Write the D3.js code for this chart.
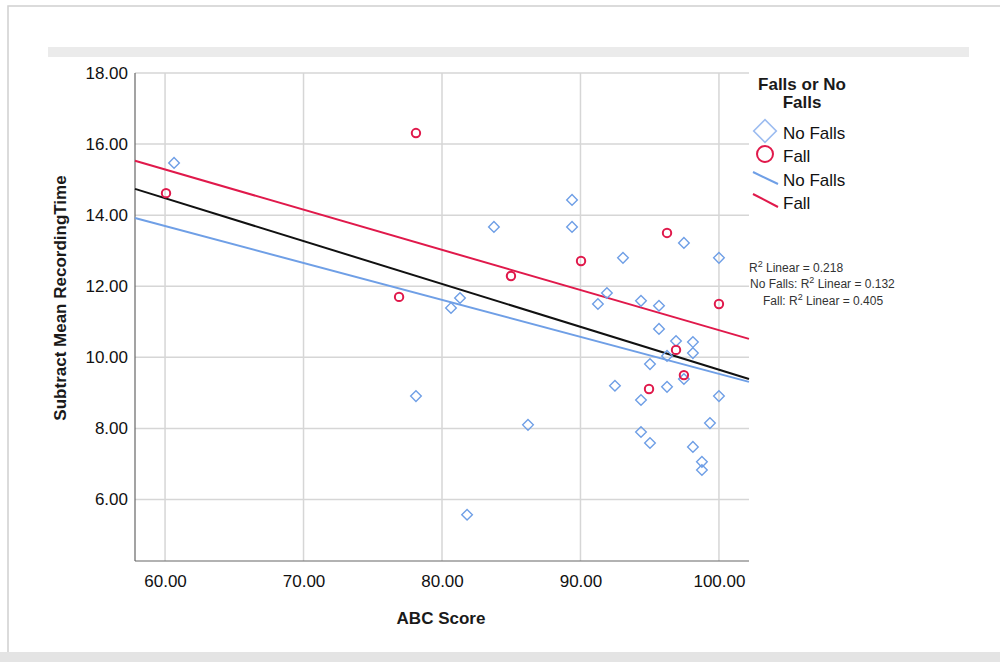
<!DOCTYPE html>
<html>
<head>
<meta charset="utf-8">
<script src="https://cdn.jsdelivr.net/npm/d3@7"></script>
<style>
	body{margin:0;background:#fff;}
	svg{display:block;font-family:"Liberation Sans",Arial,sans-serif;}
</style>
</head>
<body>
<svg id="chart" width="1000" height="662"></svg>
<script>
/*
	Scatter ABC Score vs Subtract Mean RecordingTime, with fit lines
*/

// No Falls (diamonds)
var noFallX = [60.65,83.75,89.39,89.39,93.07,97.47,100.0,80.65,81.3,91.91,91.26,94.37,95.67,95.67,96.9,98.12,98.12,96.25,95.02,97.47,92.49,96.25,94.37,100.0,78.12,86.21,94.37,95.02,99.35,98.12,98.77,98.77,81.81];
var noFallY = [15.47,13.67,14.43,13.67,12.80,13.22,12.80,11.39,11.67,11.81,11.50,11.59,11.45,10.80,10.46,10.43,10.12,10.04,9.81,9.39,9.20,9.17,8.80,8.91,8.91,8.10,7.90,7.59,8.15,7.48,7.06,6.83,5.57];

// Fall (circles)
var fallX = [78.12,60.07,76.9,84.98,90.04,96.25,100.0,96.9,94.95,97.47];
var fallY = [16.31,14.62,11.70,12.29,12.71,13.50,11.50,10.21,9.11,9.50];

// fit lines, ends at the axis limits
var fitX = [57.83,102.17];
var fitTotal = [14.74,9.39];
var fitNoFall = [13.92,9.31];
var fitFall = [15.53,10.52];

var xTicks = [60,70,80,90,100];
var yTicks = [6,8,10,12,14,16,18];

var r2Labels = [
	{pre:"R", post:" Linear = 0.218", x:749, y:272},
	{pre:"No Falls: R", post:" Linear = 0.132", x:750, y:288},
	{pre:"Fall: R", post:" Linear = 0.405", x:763, y:305}
];

var blue = "#6f9fe6";
var red = "#e0194b";

function init(){
	var svg = d3.select('#chart');

	// frame
	svg.append("rect").attr("x",8).attr("y",6).attr("width",1000).attr("height",648)
		.attr("fill","none").attr("stroke","#d0d0d0").attr("stroke-width",1.5);
	svg.append("rect").attr("x",0).attr("y",652).attr("width",1000).attr("height",10)
		.attr("fill","#e4e4e4");
	svg.append("rect").attr("x",48).attr("y",47).attr("width",921).attr("height",10)
		.attr("fill","#ebebeb");

	var x = d3.scaleLinear().domain([57.83,102.17]).range([135,749]);
	var y = d3.scaleLinear().domain([4.27,18]).range([561,73]);

	// grid
	svg.append("g").selectAll("line").data(xTicks).enter().append("line")
		.attr("x1",d=>x(d)).attr("x2",d=>x(d)).attr("y1",y(18)).attr("y2",561)
		.attr("stroke","#d6d6d6").attr("stroke-width",1.5);
	svg.append("g").selectAll("line").data(yTicks).enter().append("line")
		.attr("x1",135).attr("x2",749).attr("y1",d=>y(d)).attr("y2",d=>y(d))
		.attr("stroke","#d6d6d6").attr("stroke-width",1.5);

	// axes
	var ax = svg.append("g").attr("transform","translate(0,561)")
		.call(d3.axisBottom(x).tickValues(xTicks).tickSize(0).tickPadding(14).tickFormat(d3.format(".2f")));
	var ay = svg.append("g").attr("transform","translate(135,0)")
		.call(d3.axisLeft(y).tickValues(yTicks).tickSize(0).tickPadding(7).tickFormat(d3.format(".2f")));
	[ax,ay].forEach(function(a){
		a.select(".domain").remove();
		a.selectAll("text").attr("font-size","17px").attr("fill","#111")
			.attr("font-family","'Liberation Sans',Arial,sans-serif");
	});
	svg.append("line").attr("x1",135).attr("x2",135).attr("y1",y(18)).attr("y2",561)
		.attr("stroke","#666").attr("stroke-width",1.2);
	svg.append("line").attr("x1",135).attr("x2",749).attr("y1",561).attr("y2",561)
		.attr("stroke","#666").attr("stroke-width",1.2);

	// titles
	svg.append("text").attr("x",441).attr("y",624).attr("text-anchor","middle")
		.attr("font-size","17px").attr("font-weight","bold").attr("fill","#1a1a1a").text("ABC Score");
	svg.append("text").attr("transform","translate(66,298) rotate(-90)").attr("text-anchor","middle")
		.attr("font-size","17px").attr("font-weight","bold").attr("fill","#1a1a1a").text("Subtract Mean RecordingTime");

	// fit lines
	var line = d3.line().x(d=>x(d[0])).y(d=>y(d[1]));
	[[fitFall,red],[fitTotal,"#111"],[fitNoFall,blue]].forEach(function(f){
		svg.append("path").datum(d3.zip(fitX,f[0])).attr("d",line)
			.attr("fill","none").attr("stroke",f[1]).attr("stroke-width",2);
	});

	// points
	svg.append("g").selectAll("path").data(d3.zip(noFallX,noFallY)).enter().append("path")
		.attr("d",d3.symbol().type(d3.symbolDiamond2).size(72))
		.attr("transform",d=>"translate("+x(d[0])+","+y(d[1])+")")
		.attr("fill","none").attr("stroke",blue).attr("stroke-width",1.4);
	svg.append("g").selectAll("circle").data(d3.zip(fallX,fallY)).enter().append("circle")
		.attr("cx",d=>x(d[0])).attr("cy",d=>y(d[1])).attr("r",4.2)
		.attr("fill","none").attr("stroke",red).attr("stroke-width",2);

	// R2 labels
	r2Labels.forEach(function(l){
		var t = svg.append("text").attr("x",l.x).attr("y",l.y).attr("font-size","12px").attr("fill","#333");
		t.append("tspan").text(l.pre);
		t.append("tspan").attr("dy",-5).attr("font-size","9px").text("2");
		t.append("tspan").attr("dy",5).text(l.post);
	});

	// legend
	var lg = svg.append("g");
	lg.append("text").attr("x",802).attr("y",90).attr("text-anchor","middle")
		.attr("font-size","17px").attr("font-weight","bold").attr("fill","#1a1a1a").text("Falls or No");
	lg.append("text").attr("x",802).attr("y",108).attr("text-anchor","middle")
		.attr("font-size","17px").attr("font-weight","bold").attr("fill","#1a1a1a").text("Falls");
	lg.append("rect").attr("x",-8).attr("y",-8).attr("width",16).attr("height",16)
		.attr("transform","translate(765,131) rotate(45)")
		.attr("fill","none").attr("stroke","#9cbcf0").attr("stroke-width",1.6);
	lg.append("circle").attr("cx",765).attr("cy",154).attr("r",8)
		.attr("fill","none").attr("stroke",red).attr("stroke-width",2);
	lg.append("line").attr("x1",753).attr("y1",172).attr("x2",778).attr("y2",184)
		.attr("stroke",blue).attr("stroke-width",2);
	lg.append("line").attr("x1",753).attr("y1",194).attr("x2",778).attr("y2",207)
		.attr("stroke",red).attr("stroke-width",2);
	var items = [["No Falls",139],["Fall",162],["No Falls",186],["Fall",209]];
	lg.selectAll("text.it").data(items).enter().append("text").attr("class","it")
		.attr("x",783).attr("y",d=>d[1]).attr("font-size","17px").attr("fill","#111").text(d=>d[0]);
}
init();
</script>
</body>
</html>
